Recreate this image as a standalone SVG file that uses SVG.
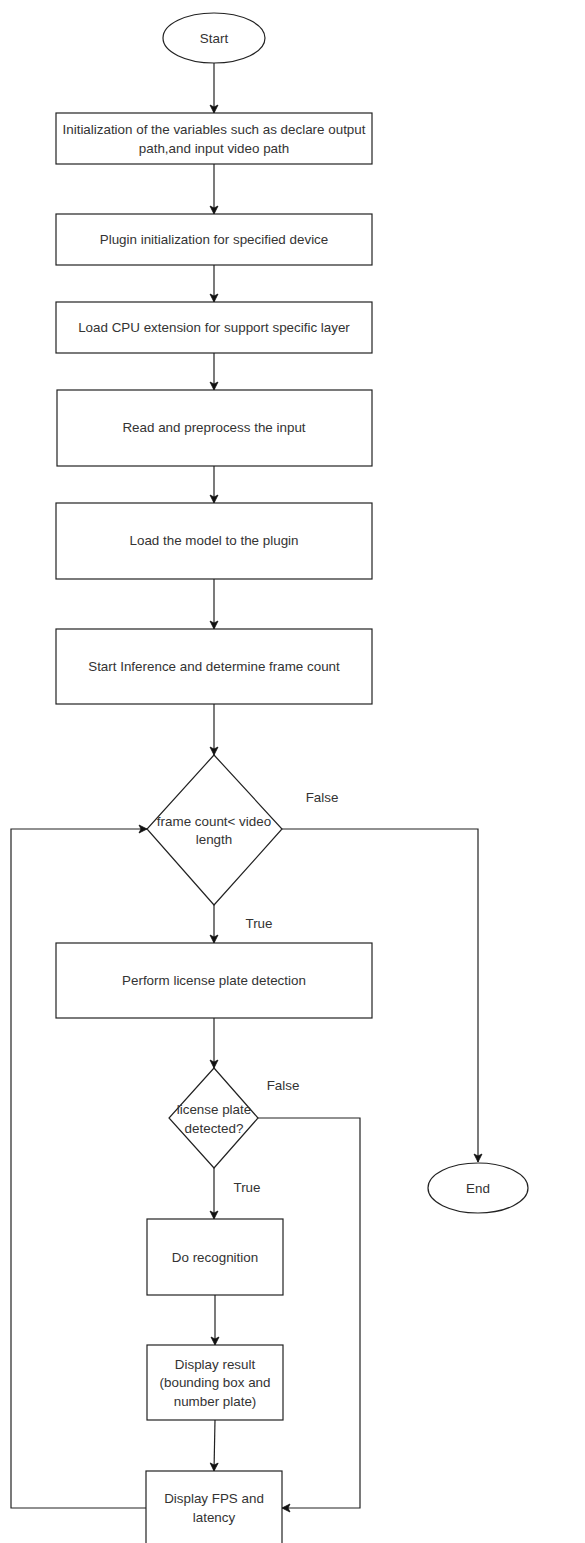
<svg xmlns="http://www.w3.org/2000/svg" width="585" height="1543" viewBox="0 0 585 1543">
  <style>
    .shape { fill: #ffffff; stroke: #222222; stroke-width: 1.2; }
    .edge { fill: none; stroke: #222222; stroke-width: 1.2; }
    .lbl { font-family: "Liberation Sans", Arial, sans-serif; font-size: 13.4px; fill: #333333; text-anchor: middle; }
  </style>
  <defs>
    <marker id="arrow" markerUnits="userSpaceOnUse" markerWidth="10" markerHeight="10" refX="9" refY="5" orient="auto">
      <path d="M1,1 L9,5 L1,9 L3,5 Z" fill="#111111" stroke="#111111" stroke-width="0.8"/>
    </marker>
  </defs>
  <rect width="585" height="1543" fill="#ffffff"/>

  <!-- connectors -->
  <g id="connectors">
    <path class="edge" d="M214,63 L214,113" marker-end="url(#arrow)"/>
    <path class="edge" d="M214,164 L214,214" marker-end="url(#arrow)"/>
    <path class="edge" d="M214,265 L214,302" marker-end="url(#arrow)"/>
    <path class="edge" d="M214,353 L214,390" marker-end="url(#arrow)"/>
    <path class="edge" d="M214,466 L214,503" marker-end="url(#arrow)"/>
    <path class="edge" d="M214,579 L214,629" marker-end="url(#arrow)"/>
    <path class="edge" d="M214,704 L214,755" marker-end="url(#arrow)"/>
    <path class="edge" d="M214,905 L214,943" marker-end="url(#arrow)"/>
    <path class="edge" d="M282,829 L478,829 L478,1162" marker-end="url(#arrow)"/>
    <path class="edge" d="M214,1018 L214,1068" marker-end="url(#arrow)"/>
    <path class="edge" d="M258,1118 L360,1118 L360,1508 L282,1508" marker-end="url(#arrow)"/>
    <path class="edge" d="M214,1168 L214,1219" marker-end="url(#arrow)"/>
    <path class="edge" d="M215,1295 L215,1345" marker-end="url(#arrow)"/>
    <path class="edge" d="M215,1420 L214,1471" marker-end="url(#arrow)"/>
    <path class="edge" d="M146,1508 L11,1508 L11,829 L147,829" marker-end="url(#arrow)"/>
    <text class="lbl" x="322" y="802">False</text>
    <text class="lbl" x="259" y="928">True</text>
    <text class="lbl" x="283" y="1090">False</text>
    <text class="lbl" x="247" y="1192">True</text>
  </g>

  <g id="start">
    <ellipse class="shape" cx="214" cy="38" rx="51" ry="25"/>
    <text class="lbl" x="214" y="43">Start</text>
  </g>

  <g id="init-vars">
    <rect class="shape" x="56" y="113" width="316" height="51"/>
    <text class="lbl" x="214" y="134">Initialization of the variables such as declare output</text>
    <text class="lbl" x="214" y="153">path,and input video path</text>
  </g>

  <g id="plugin-init">
    <rect class="shape" x="56" y="214" width="316" height="51"/>
    <text class="lbl" x="214" y="244">Plugin initialization for specified device</text>
  </g>

  <g id="cpu-ext">
    <rect class="shape" x="56" y="302" width="316" height="51"/>
    <text class="lbl" x="214" y="332">Load CPU extension for support specific layer</text>
  </g>

  <g id="read-input">
    <rect class="shape" x="57" y="390" width="315" height="76"/>
    <text class="lbl" x="214" y="432">Read and preprocess the input</text>
  </g>

  <g id="load-model">
    <rect class="shape" x="56" y="503" width="316" height="76"/>
    <text class="lbl" x="214" y="545">Load the model to the plugin</text>
  </g>

  <g id="start-inference">
    <rect class="shape" x="56" y="629" width="316" height="75"/>
    <text class="lbl" x="214" y="671">Start Inference and determine frame count</text>
  </g>

  <g id="frame-check">
    <polygon class="shape" points="214,755 282,829 214,905 147,829"/>
    <text class="lbl" x="214" y="826">frame count&lt; video</text>
    <text class="lbl" x="214" y="844">length</text>
  </g>

  <g id="detect-plate">
    <rect class="shape" x="56" y="943" width="316" height="75"/>
    <text class="lbl" x="214" y="985">Perform license plate detection</text>
  </g>

  <g id="plate-check">
    <polygon class="shape" points="214,1068 258,1118 214,1168 169,1118"/>
    <text class="lbl" x="214" y="1114">license plate</text>
    <text class="lbl" x="214" y="1133">detected?</text>
  </g>

  <g id="recognition">
    <rect class="shape" x="147" y="1219" width="136" height="76"/>
    <text class="lbl" x="215" y="1262">Do recognition</text>
  </g>

  <g id="display-result">
    <rect class="shape" x="147" y="1345" width="136" height="75"/>
    <text class="lbl" x="215" y="1369">Display result</text>
    <text class="lbl" x="215" y="1387">(bounding box and</text>
    <text class="lbl" x="215" y="1406">number plate)</text>
  </g>

  <g id="display-fps">
    <rect class="shape" x="146" y="1471" width="136" height="76"/>
    <text class="lbl" x="214" y="1503">Display FPS and</text>
    <text class="lbl" x="214" y="1522">latency</text>
  </g>

  <g id="end">
    <ellipse class="shape" cx="478" cy="1188" rx="50" ry="25"/>
    <text class="lbl" x="478" y="1193">End</text>
  </g>
</svg>
